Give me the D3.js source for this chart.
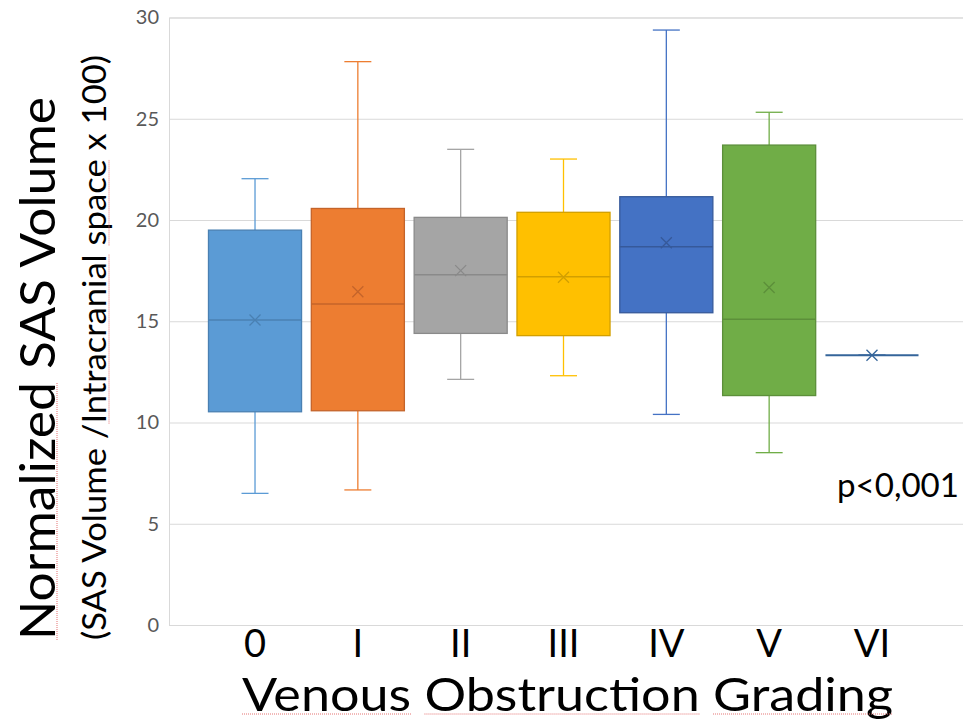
<!DOCTYPE html>
<html>
<head>
<meta charset="utf-8">
<script src="https://cdn.jsdelivr.net/npm/d3@7"></script>
<style>
  html, body { margin: 0; padding: 0; background: #fff; }
  svg { display: block; }
  text { font-family: Lato, "Open Sans", sans-serif; }
</style>
</head>
<body>
<svg id="chart" width="973" height="722"></svg>
<script>
// ---- data ----
const categories  = ["0", "I", "II", "III", "IV", "V", "VI"];
const whiskerLow  = [6.50, 6.67, 12.13, 12.31, 10.40,  8.51, 13.32];
const q1          = [10.53, 10.58, 14.40, 14.29, 15.42, 11.33, 13.32];
const median      = [15.06, 15.85, 17.30, 17.20, 18.68, 15.10, 13.32];
const q3          = [19.50, 20.57, 20.13, 20.38, 21.15, 23.70, 13.32];
const whiskerHigh = [22.04, 27.82, 23.49, 23.01, 29.38, 25.32, 13.32];
const mean        = [15.06, 16.46, 17.50, 17.17, 18.88, 16.67, 13.32];
const yTicks      = [0, 5, 10, 15, 20, 25, 30];
const fills   = ["#5B9BD5", "#ED7D31", "#A5A5A5", "#FFC000", "#4472C4", "#70AD47", "#35659A"];
const strokes = ["#4A80B2", "#C4642A", "#8A8A8A", "#D29F00", "#36599A", "#5C8F3A", "#35659A"];

const xTitle = "Venous Obstruction Grading";
const yTitle1 = "Normalized SAS Volume";
const yTitle2 = "(SAS Volume /Intracranial space x 100)";
const pText = "p<0,001";
// words carrying the red spell-check underline in the reference
const xTitleMarked = ["Venous", "Obstruction", "Grading"];
const yTitle1Marked = ["Normalized"];
const yTitle2Marked = ["Intracranial", "space"];

// ---- layout ----
const plotLeft = 169, plotRight = 963, plotTop = 17.5, plotBottom = 625;

const svg = d3.select("#chart");
const y = d3.scaleLinear().domain([0, 30]).range([plotBottom, plotTop]);
const x = d3.scaleBand().domain(categories).range([plotLeft, 958])
  .paddingInner(0.095).paddingOuter(0.384);

// gridlines
const yAxis = d3.axisLeft(y).tickValues(yTicks).tickSize(-(plotRight - plotLeft)).tickPadding(10);
const gy = svg.append("g").attr("transform", `translate(${plotLeft},0)`).call(yAxis);
gy.select(".domain").attr("stroke", "#D9D9D9");
gy.selectAll(".tick line").attr("stroke", "#D9D9D9").attr("stroke-width", 1);
gy.selectAll(".tick text").attr("fill", "#595959").attr("font-size", 20)
  .attr("font-family", "Lato, sans-serif").attr("x", -10);

// x axis labels
const xAxis = d3.axisBottom(x).tickSize(0).tickPadding(0);
const gx = svg.append("g").attr("transform", `translate(0,${plotBottom})`).call(xAxis);
gx.select(".domain").remove();
gx.selectAll(".tick text").attr("fill", "#000").attr("font-size", 38)
  .attr("font-family", "Lato, sans-serif").attr("dy", 0).attr("y", 32);

// boxes
const data = categories.map((c, i) => ({
  c, lo: whiskerLow[i], q1: q1[i], med: median[i], q3: q3[i], hi: whiskerHigh[i],
  mean: mean[i], fill: fills[i], stroke: strokes[i]
}));

const g = svg.append("g");
const bw = x.bandwidth();
const capW = 27;

data.forEach(d => {
  const cx = x(d.c) + bw / 2;
  const gg = g.append("g");
  gg.append("line").attr("x1", cx).attr("x2", cx).attr("y1", y(d.q3)).attr("y2", y(d.hi))
    .attr("stroke", d.fill).attr("stroke-width", 1.3);
  gg.append("line").attr("x1", cx).attr("x2", cx).attr("y1", y(d.q1)).attr("y2", y(d.lo))
    .attr("stroke", d.fill).attr("stroke-width", 1.3);
  gg.append("line").attr("x1", cx - capW / 2).attr("x2", cx + capW / 2).attr("y1", y(d.hi)).attr("y2", y(d.hi))
    .attr("stroke", d.fill).attr("stroke-width", 1.3);
  gg.append("line").attr("x1", cx - capW / 2).attr("x2", cx + capW / 2).attr("y1", y(d.lo)).attr("y2", y(d.lo))
    .attr("stroke", d.fill).attr("stroke-width", 1.3);
  if (y(d.q1) - y(d.q3) > 0.5) {
    gg.append("rect").attr("x", x(d.c)).attr("width", bw)
      .attr("y", y(d.q3)).attr("height", y(d.q1) - y(d.q3))
      .attr("fill", d.fill).attr("stroke", d.stroke).attr("stroke-width", 1.3);
  }
  gg.append("line").attr("x1", x(d.c)).attr("x2", x(d.c) + bw).attr("y1", y(d.med)).attr("y2", y(d.med))
    .attr("stroke", d.stroke).attr("stroke-width", d.q1 === d.q3 ? 2 : 1.5);
  const my = y(d.mean), s = 5.5;
  gg.append("path").attr("d", `M${cx - s},${my - s}L${cx + s},${my + s}M${cx - s},${my + s}L${cx + s},${my - s}`)
    .attr("stroke", d.stroke).attr("stroke-width", 1.3).attr("fill", "none");
});

// titles with spell-check style underlines
function titled(transform, size, len, str, marked, off) {
  const grp = svg.append("g").attr("transform", transform);
  const t = grp.append("text").attr("x", 0).attr("y", 0).attr("font-size", size).attr("fill", "#000")
    .attr("textLength", len).attr("lengthAdjust", "spacingAndGlyphs").text(str);
  const node = t.node();
  marked.forEach(w => {
    const i = str.indexOf(w);
    if (i < 0) return;
    try {
      const x0 = node.getStartPositionOfChar(i).x;
      const x1 = node.getEndPositionOfChar(i + w.length - 1).x;
      grp.append("line").attr("x1", x0).attr("x2", x1).attr("y1", off).attr("y2", off)
        .attr("stroke", "#E57373").attr("stroke-width", 1).attr("stroke-dasharray", "1,1");
    } catch (e) {}
  });
}
titled("translate(242,711)", 47, 651, xTitle, xTitleMarked, 3);
titled("translate(55,640) rotate(-90)", 48, 543, yTitle1, yTitle1Marked, 2);
titled("translate(106,640) rotate(-90)", 33, 585, yTitle2, yTitle2Marked, 3);

svg.append("text").attr("x", 837).attr("y", 497).attr("font-size", 33).attr("fill", "#000")
  .attr("textLength", 122).attr("lengthAdjust", "spacingAndGlyphs").text(pText);
</script>
</body>
</html>
